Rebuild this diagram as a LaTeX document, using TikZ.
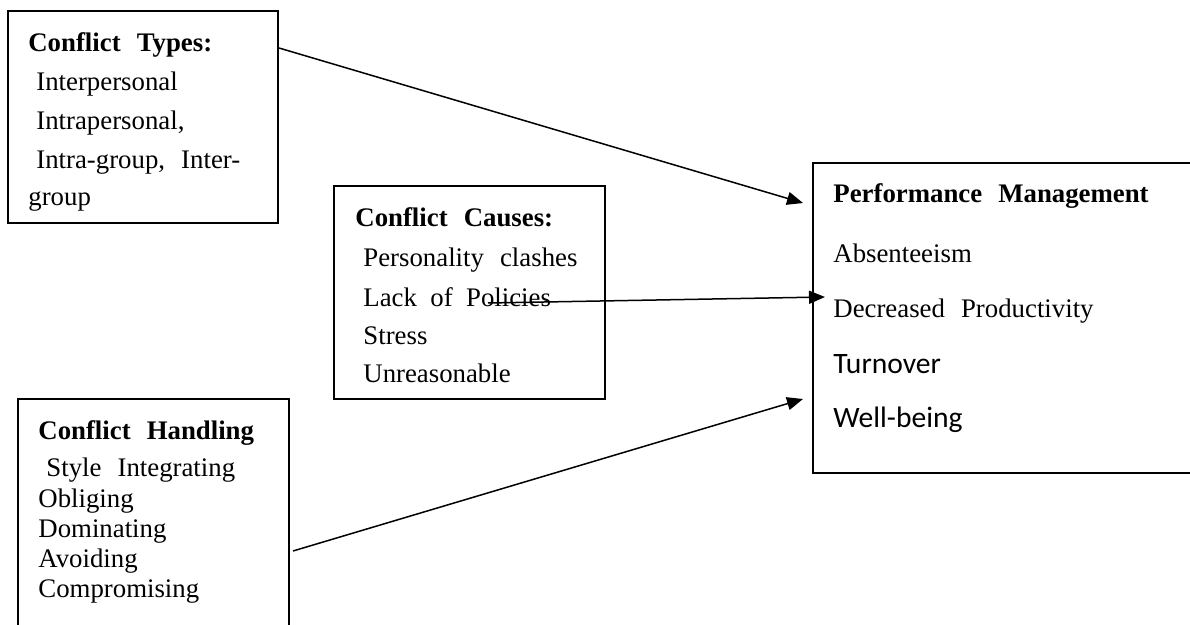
\documentclass[tikz,border=0pt]{standalone}
\usepackage{fontspec}
\setmainfont{Liberation Serif}
\newfontfamily\calibrifont{Carlito}
\usetikzlibrary{arrows.meta,positioning}
\tikzset{
  boxln/.style={draw, line width=1pt, inner sep=0pt, anchor=north west},
  linkln/.style={-{Triangle[length=8pt,width=6.5pt]}, line width=0.75pt},
  headtxt/.style={anchor=base west, inner sep=0pt, font=\fontsize{13.4}{16}\selectfont\bfseries},
  itemtxt/.style={anchor=base west, inner sep=0pt, font=\fontsize{13.4}{16}\selectfont},
  calitxt/.style={anchor=base west, inner sep=0pt, font=\fontsize{14.8}{18}\calibrifont},
}

\begin{document}
\begin{tikzpicture}[x=0.5pt, y=-0.5pt]
    \useasboundingbox (0,0) rectangle (1190,625);
    \clip (0,0) rectangle (1190,625);
    % types
    \node[boxln, minimum width=135pt, minimum height=106pt] (types) at (7,10) {};
    \node[headtxt] (typesh) at (28,52) {Conflict\hspace{0.6em}Types:};
    \node[itemtxt] (ty1) at (36,91) {Interpersonal};
    \node[itemtxt] (ty2) at (36,130) {Intrapersonal,};
    \node[itemtxt] (ty3) at (36,169) {Intra-group,\hspace{0.6em}Inter-};
    \node[itemtxt] (ty4) at (28,206) {group};
    % causes
    \node[boxln, minimum width=135.5pt, minimum height=106.5pt] (causes) at (333,185) {};
    \node[headtxt] (causesh) at (355,227) {Conflict\hspace{0.6em}Causes:};
    \node[itemtxt] (ca1) at (363,267) {Personality\hspace{0.6em}clashes};
    \node[itemtxt] (ca2) at (363,307) {Lack\hspace{0.5em}of\hspace{0.5em}Policies};
    \node[itemtxt] (ca3) at (363,345) {Stress};
    \node[itemtxt] (ca4) at (363,383) {Unreasonable};
    % handling
    \node[boxln, minimum width=135.5pt, minimum height=125pt] (handling) at (17,398) {};
    \node[headtxt] (handlingh) at (38,440) {Conflict\hspace{0.6em}Handling};
    \node[itemtxt] (ha1) at (46,477) {Style\hspace{0.6em}Integrating};
    \node[itemtxt] (ha2) at (38,508) {Obliging};
    \node[itemtxt] (ha3) at (38,538) {Dominating};
    \node[itemtxt] (ha4) at (38,568) {Avoiding};
    \node[itemtxt] (ha5) at (38,598) {Compromising};
    % performance management
    \node[boxln, minimum width=200pt, minimum height=155pt] (perf) at (812,162) {};
    \node[headtxt] (perfh) at (833,203) {Performance\hspace{0.6em}Management};
    \node[itemtxt] (pe1) at (833,263) {Absenteeism};
    \node[itemtxt] (pe2) at (833,318) {Decreased\hspace{0.6em}Productivity};
    \node[calitxt] (pe3) at (833,374) {Turnover};
    \node[calitxt] (pe4) at (833,428) {Well-being};
    % links
    \coordinate (typesend) at (803,203);
    \coordinate (causesbeg) at (488,303);
    \coordinate (causesend) at (825,297);
    \coordinate (handlingbeg) at (293,551);
    \coordinate (handlingend) at (803,399);
    \draw[linkln] ([yshift=-19pt]types.north east) -- (typesend);
    \draw[linkln] (causesbeg) -- (causesend);
    \draw[linkln] (handlingbeg) -- (handlingend);
  \end{tikzpicture}
\end{document}
